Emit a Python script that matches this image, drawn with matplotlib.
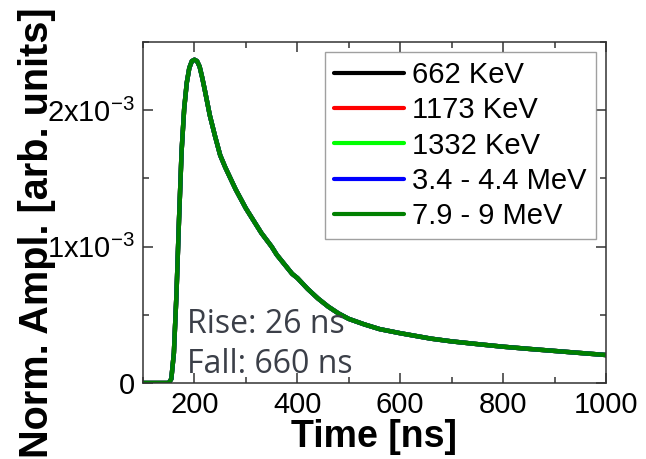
import numpy as np
import matplotlib
matplotlib.use("Agg")
import matplotlib.pyplot as plt
from matplotlib.ticker import MultipleLocator, FixedLocator

plt.rcParams['font.family'] = ['Liberation Sans', 'DejaVu Sans']
plt.rcParams['mathtext.fontset'] = 'custom'
plt.rcParams['mathtext.rm'] = 'Liberation Sans'
plt.rcParams['mathtext.it'] = 'Liberation Sans:italic'
plt.rcParams['mathtext.bf'] = 'Liberation Sans:bold'

# time axis (ns) and normalised pulse shape (x1e-3)
time_ns = [100, 150, 155, 160, 165, 170, 175, 180, 185, 190, 195, 200, 205, 210,
           215, 220, 230, 240, 250, 260, 270, 280, 290, 300, 310, 320, 330, 340,
           350, 360, 375, 390, 400, 420, 440, 460, 480, 500, 530, 560, 600, 630,
           660, 700, 750, 800, 850, 900, 950, 1000]
amp_e3 = [0, 0, 0.03, 0.22, 0.65, 1.2, 1.7, 2.01, 2.2, 2.31, 2.36, 2.37, 2.36, 2.32,
          2.24, 2.15, 1.96, 1.81, 1.67, 1.58, 1.50, 1.42, 1.35, 1.28, 1.22, 1.16,
          1.10, 1.05, 1.00, 0.94, 0.87, 0.80, 0.77, 0.69, 0.62, 0.56, 0.51, 0.47,
          0.43, 0.395, 0.365, 0.345, 0.325, 0.305, 0.285, 0.266, 0.25, 0.235,
          0.22, 0.205]

# all five energies give the same normalised shape (curves overlap)
labels = ['662 KeV', '1173 KeV', '1332 KeV', '3.4 - 4.4 MeV', '7.9 - 9 MeV']
colors = ['#000000', '#ff0000', '#00ff00', '#0000ff', '#008000']
series = [amp_e3, amp_e3, amp_e3, amp_e3, amp_e3]

x_ticks = [200, 400, 600, 800, 1000]
y_ticks = [0, 1e-3, 2e-3]
y_ticklabels = ['0', '1x10$^{-3}$', '2x10$^{-3}$']

fig = plt.figure(figsize=(6.46, 4.59), dpi=100)
ax = fig.add_axes([0.2214, 0.1656, 0.938 - 0.2214, 0.9085 - 0.1656])

t = np.array(time_ns)
for lab, col, vals in zip(labels, colors, series):
    ax.plot(t, np.array(vals) * 1e-3, color=col, lw=3.2, label=lab,
            solid_joinstyle='round', solid_capstyle='round')

ax.set_xlim(100, 1000)
ax.set_ylim(0, 2.5e-3)
ax.xaxis.set_major_locator(FixedLocator(x_ticks))
ax.xaxis.set_minor_locator(MultipleLocator(100))
ax.yaxis.set_major_locator(FixedLocator(y_ticks))
ax.yaxis.set_minor_locator(MultipleLocator(0.5e-3))
ax.set_yticklabels(y_ticklabels)
ax.tick_params(which='both', direction='in', top=True, right=True,
               color='#333333', width=1.1)
ax.tick_params(which='major', length=7, labelsize=21, pad=6)
ax.tick_params(which='minor', length=4)
for s in ax.spines.values():
    s.set_color('#333333')
    s.set_linewidth(1.1)

ax.set_xlabel('Time [ns]', fontsize=27, fontweight='bold', labelpad=0)
fig.text(0.058, 0.494, 'Norm. Ampl. [arb. units]', rotation=90, fontsize=28.5,
         fontweight='bold', ha='center', va='center')

ax.text(186, 0.37e-3, 'Rise: 26 ns', fontsize=23, color='#3b3f48',
        family='Open Sans')
ax.text(186, 0.07e-3, 'Fall: 660 ns', fontsize=23, color='#3b3f48',
        family='Open Sans')

leg = ax.legend(loc='upper right', fontsize=21, frameon=True, fancybox=False,
                edgecolor='#888888', handlelength=2.4, handletextpad=0.3,
                labelspacing=0.25, borderpad=0.3, borderaxespad=0.35)
leg.get_frame().set_linewidth(1.0)
for h in leg.get_lines():
    h.set_linewidth(3)

fig.savefig('out.png', dpi=100)
